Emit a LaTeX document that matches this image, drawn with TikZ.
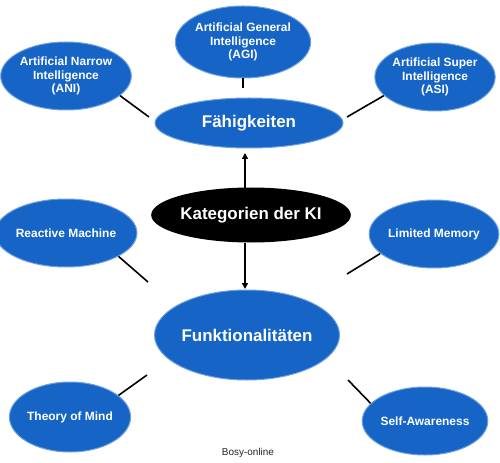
\documentclass[tikz,border=0pt]{standalone}
\usepackage{fontspec}
\setmainfont{Liberation Sans}
\usetikzlibrary{shapes.geometric,arrows.meta}
\definecolor{kiblue}{RGB}{22,100,198}
\definecolor{kiedge}{RGB}{110,160,225}
\tikzset{
  bub/.style={ellipse, fill=kiblue, draw=kiedge, line width=1pt, text=white,
    font=\bfseries\fontsize{12}{13.5}\selectfont, align=center, inner sep=0pt},
  hub/.style={bub, font=\bfseries\fontsize{17}{20}\selectfont},
  conn/.style={line width=1.6pt, draw=black},
  arr/.style={line width=1.7pt, draw=black, -{Triangle[length=6pt,width=6pt]}}
}
\begin{document}
\begin{tikzpicture}[x=1bp,y=-1bp]
\useasboundingbox (0,0) rectangle (500,463);
\fill[white] (0,0) rectangle (500,463);
% satellites
\node[bub, minimum width=114bp, minimum height=72bp] (agi) at (243,42) {Artificial General\\Intelligence\\(AGI)};
\node[bub, minimum width=114bp, minimum height=68bp] (ani) at (66,76) {Artificial Narrow\\Intelligence\\(ANI)};
\node[bub, minimum width=114bp, minimum height=68bp] (asi) at (435,77) {Artificial Super\\Intelligence\\(ASI)};
\node[bub, minimum width=116bp, minimum height=68bp] (rm) at (66,233) {Reactive Machine};
\node[bub, minimum width=114bp, minimum height=68bp] (lm) at (434,234) {Limited Memory};
\node[bub, minimum width=114bp, minimum height=70bp] (tom) at (70,417) {Theory of Mind};
\node[bub, minimum width=114bp, minimum height=68bp] (sa) at (425,421) {Self-Awareness};
% hubs
\node[hub, minimum width=188bp, minimum height=50bp] (fae) at (249,123) {Fähigkeiten};
\node[ellipse, fill=black, text=white, font=\bfseries\fontsize{17}{20}\selectfont,
  minimum width=198bp, minimum height=55bp, inner sep=0pt] (kat) at (251,215) {Kategorien der KI};
\node[hub, minimum width=156bp, minimum height=90bp] (fun) at (247,335) {Funktionalitäten};
\node[font=\fontsize{10}{12}\selectfont, text=black!85] (src) at (248,453) {Bosy-online};
% free ends
\coordinate (e1) at (149,117);
\coordinate (e2) at (243,88);
\coordinate (e3) at (347,117);
\coordinate (e4) at (148,282);
\coordinate (e5) at (347,274);
\coordinate (e6) at (147,375);
\coordinate (e7) at (348,380);
\coordinate (k1) at (245,153);
\coordinate (k2) at (245,289);
\coordinate (ks1) at (245,188);
\coordinate (ks2) at (245,243);
% connectors
\draw[conn] (ani.-20) -- (e1);
\draw[conn] (agi.south) -- (e2);
\draw[conn] (asi.-160) -- (e3);
\draw[conn] (rm.-24) -- (e4);
\draw[conn] (lm.-160) -- (e5);
\draw[conn] (tom.24) -- (e6);
\draw[conn] (sa.162) -- (e7);
\draw[arr] (ks1) -- (k1);
\draw[arr] (ks2) -- (k2);
\end{tikzpicture}
\end{document}
